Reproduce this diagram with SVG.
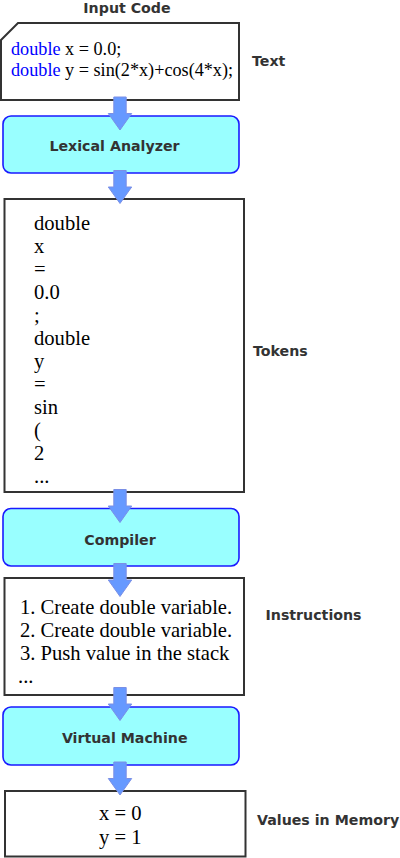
<svg xmlns="http://www.w3.org/2000/svg" xmlns:xlink="http://www.w3.org/1999/xlink" width="400" height="858" viewBox="0 0 400 858">
<style>
.box{fill:#fff;stroke:#333;stroke-width:2}
.proc{fill:#99ffff;stroke:#1a1aff;stroke-width:1.6}
.lbl{font-family:"DejaVu Sans",Verdana,sans-serif;font-weight:bold;font-size:14.2px;fill:#333}
.code{font-family:"Liberation Serif","Times New Roman",serif;font-size:18.2px;fill:#000}
.tt{font-family:"Liberation Serif","Times New Roman",serif;font-size:20.6px;fill:#000}
.kw{fill:#0000ff}
.arr{fill:#6699ff;stroke:#7a8fe6;stroke-width:1}
</style>
<defs>
<path id="arrow" class="arr" d="M-6.2,0 H6.2 V16.5 H11.7 L0,33 L-11.7,16.5 H-6.2 Z"/>
</defs>
<g id="input-code">
<path class="box" d="M1,40 L18,23 H239 V100 H1 Z"/>
<text class="lbl" x="127" y="13" text-anchor="middle">Input Code</text>
<text class="code" x="11" y="55"><tspan class="kw">double</tspan> x = 0.0;</text>
<text class="code" x="11" y="76"><tspan class="kw">double</tspan> y = sin(2*x)+cos(4*x);</text>
<text class="lbl" x="252" y="66">Text</text>
</g>
<g id="lexical-analyzer">
<rect class="proc" x="3" y="116" width="236" height="57" rx="8"/>
<text class="lbl" x="114.5" y="151" text-anchor="middle">Lexical Analyzer</text>
</g>
<g id="tokens">
<rect class="box" x="4.5" y="199" width="239.5" height="293"/>
<text class="tt" x="34" y="230">double</text>
<text class="tt" x="34" y="253">x</text>
<text class="tt" x="34" y="276">=</text>
<text class="tt" x="34" y="299">0.0</text>
<text class="tt" x="34" y="322">;</text>
<text class="tt" x="34" y="345">double</text>
<text class="tt" x="34" y="368">y</text>
<text class="tt" x="34" y="391">=</text>
<text class="tt" x="34" y="414">sin</text>
<text class="tt" x="34" y="437">(</text>
<text class="tt" x="34" y="460">2</text>
<text class="tt" x="34" y="483">...</text>
<text class="lbl" x="253" y="356">Tokens</text>
</g>
<g id="compiler">
<rect class="proc" x="3" y="508.5" width="236" height="57.5" rx="8"/>
<text class="lbl" x="120" y="545" text-anchor="middle">Compiler</text>
</g>
<g id="instructions">
<rect class="box" x="4.5" y="578" width="239.5" height="117"/>
<text class="tt" x="20" y="614">1. Create double variable.</text>
<text class="tt" x="20" y="637">2. Create double variable.</text>
<text class="tt" x="20" y="660">3. Push value in the stack</text>
<text class="tt" x="18" y="683">...</text>
<text class="lbl" x="265.5" y="620">Instructions</text>
</g>
<g id="virtual-machine">
<rect class="proc" x="3" y="707" width="236" height="58" rx="8"/>
<text class="lbl" x="124.7" y="743" text-anchor="middle">Virtual Machine</text>
</g>
<g id="values">
<rect class="box" x="5" y="791" width="240.5" height="65.5"/>
<text class="tt" x="99" y="820">x = 0</text>
<text class="tt" x="99" y="844">y = 1</text>
<text class="lbl" x="257" y="825">Values in Memory</text>
</g>
<g id="connectors">
<use xlink:href="#arrow" x="120" y="97"/>
<use xlink:href="#arrow" x="120" y="170.5"/>
<use xlink:href="#arrow" x="120" y="489.5"/>
<use xlink:href="#arrow" x="120" y="563.5"/>
<use xlink:href="#arrow" x="120" y="687.5"/>
<use xlink:href="#arrow" x="120" y="762"/>
</g>
</svg>
